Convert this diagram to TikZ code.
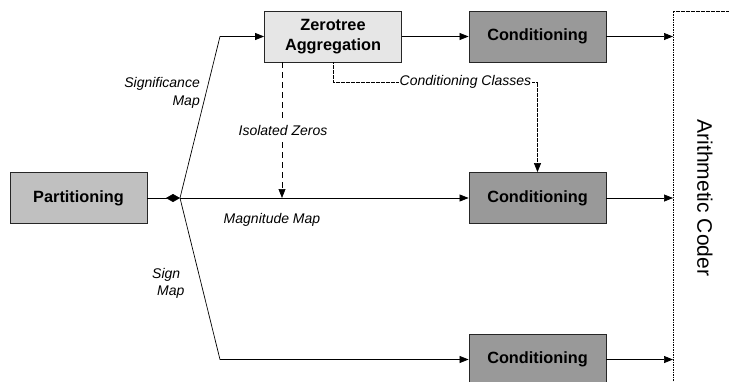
\documentclass[tikz,border=0pt]{standalone}
\usepackage{fontspec}
\setmainfont{Liberation Sans}
\usetikzlibrary{arrows.meta}
\definecolor{partfill}{HTML}{C0C0C0}
\definecolor{ztfill}{HTML}{E6E6E6}
\definecolor{condfill}{HTML}{999999}
\begin{document}
\begin{tikzpicture}[x=1pt,y=-1pt,
  box/.style={draw=black!85,line width=0.8pt,minimum width=137pt,minimum height=51pt,inner sep=0pt,align=center,
    font=\fontsize{16.3}{20}\selectfont\bfseries},
  lbl/.style={font=\fontsize{14}{17.5}\selectfont\itshape,inner sep=1pt},
  conn/.style={line width=0.7pt,-{Triangle[length=9pt,width=7pt]}},
  >={Triangle[length=9pt,width=7pt]}]
\useasboundingbox (0,0) rectangle (729,381);
% boxes
\node[box,fill=partfill] (part) at (78.5,198) {Partitioning};
\node[box,fill=ztfill] (zt) at (333,36.5) {Zerotree\\Aggregation};
\node[box,fill=condfill] (c1) at (537.5,36.5) {Conditioning};
\node[box,fill=condfill] (c2) at (537.5,198) {Conditioning};
\node[box,fill=condfill] (c3) at (537.5,359.5) {Conditioning};
% junction and bends
\coordinate (j) at (180,198);
\coordinate (b1) at (220,36.5);
\coordinate (b3) at (220,359.5);
\coordinate (iz) at (282,198);
% arithmetic coder
\coordinate (acl) at (673,11);
\draw[line width=0.6pt,dash pattern=on 1.6pt off 0.9pt] (740,11) -- (acl) -- (673,395);
\node[rotate=-90,font=\fontsize{21}{24}\selectfont] (ac) at (705,198) {Arithmetic Coder};
\coordinate (a1) at (673,36.5);
\coordinate (a2) at (673,198);
\coordinate (a3) at (673,359.5);
% connectors
\draw[line width=0.7pt,-{Diamond[length=14pt,width=8pt]}] (part.east) -- (j);
\draw[conn] (j) -- (b1) -- (zt.west);
\draw[conn] (j) -- (c2.west);
\draw[conn] (j) -- (b3) -- (c3.west);
\draw[conn] (zt.east) -- (c1.west);
\draw[conn] (c1.east) -- (a1);
\draw[conn] (c2.east) -- (a2);
\draw[conn] (c3.east) -- (a3);
% isolated zeros
\draw[conn,dash pattern=on 6pt off 4pt] (zt.south -| iz) -- (iz);
\node[lbl,fill=white,inner ysep=4pt] (izl) at (283,130) {Isolated Zeros};
% conditioning classes
\draw[conn,line width=0.6pt,dash pattern=on 1.6pt off 0.9pt] (zt.south) -- (333,82) -- (537.5,82) -- (c2.north);
\node[lbl,fill=white] (ccl) at (465.5,82) {Conditioning Classes};
% labels
\node[lbl,align=right,anchor=east] (sig) at (201,93) {Significance\\Map};
\node[lbl] (mag) at (272,220) {Magnitude Map};
\node[lbl,align=left,anchor=west] (sgn) at (151,283.5) {Sign\\\hspace*{5pt}Map};
\end{tikzpicture}
\end{document}
